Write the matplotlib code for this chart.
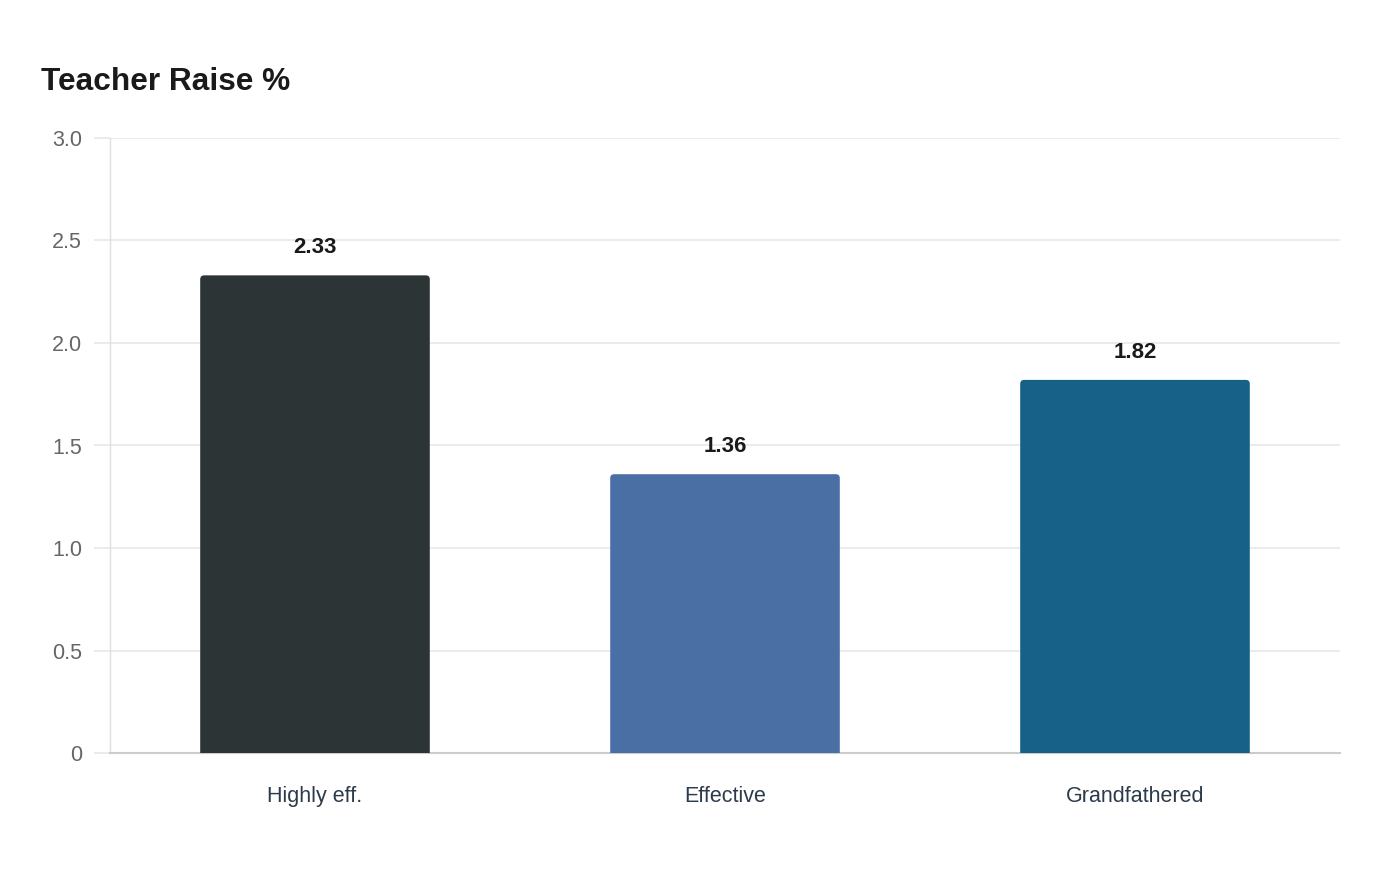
import matplotlib
matplotlib.use("Agg")
import matplotlib.pyplot as plt
from matplotlib.patches import FancyBboxPatch

categories = ["Highly eff.", "Effective", "Grandfathered"]
values = [2.33, 1.36, 1.82]
colors = ["#2d3436", "#4a6fa5", "#176087"]
yticks = [0, 0.5, 1.0, 1.5, 2.0, 2.5, 3.0]
yticklabels = ["0", "0.5", "1.0", "1.5", "2.0", "2.5", "3.0"]

plt.rcParams['font.family'] = ['Liberation Sans', 'DejaVu Sans']

fig = plt.figure(figsize=(14, 8.8), dpi=100)
ax = fig.add_axes([110/1400, 1 - 753/880, 1230/1400, 615/880])

bar_w = 0.56
x = list(range(len(categories)))
bars = ax.bar(x, values, width=bar_w, color=colors)
# Replace bars with rounded-top versions
px_x = 3.0 / 1230  # data units per px (x)
px_y = 3.0 / 615   # data units per px (y)
for b, c in zip(bars, colors):
    b.set_visible(False)
    bx, bw, bh = b.get_x(), b.get_width(), b.get_height()
    p = FancyBboxPatch((bx, -0.1), bw, bh + 0.1,
                       boxstyle="round,pad=0,rounding_size=%f" % (4 * px_x),
                       mutation_aspect=px_y / px_x,
                       facecolor=c, edgecolor="none", zorder=3)
    ax.add_patch(p)

for xi, v in zip(x, values):
    ax.text(xi, v + 22 * px_y, f"{v:.2f}", ha="center", va="baseline",
            fontsize=16, fontweight="bold", color="#1a1a1a")

ax.set_xlim(-0.5, 2.5)
ax.set_ylim(0, 3.0)
ax.set_yticks(yticks)
ax.set_yticklabels(yticklabels)
ax.set_xticks(x)
ax.set_xticklabels(categories)

ax.grid(axis="y", color="#e8e8e8", linewidth=1.2, zorder=0)
ax.set_axisbelow(True)
for s in ["top", "right"]:
    ax.spines[s].set_visible(False)
ax.spines["left"].set_color("#e0e0e0")
ax.spines["left"].set_linewidth(1)
ax.spines["left"].set_linestyle((0, (1, 1)))
ax.spines["bottom"].set_color("#cccccc")
ax.spines["bottom"].set_linewidth(1.5)

ax.tick_params(axis="y", length=11.5, color="#e8e8e8", width=1.2, pad=8.6,
               labelsize=15.5, labelcolor="#666666")
ax.tick_params(axis="x", length=0, pad=24, labelsize=15.5, labelcolor="#2d3a4a")

fig.text(41/1400, 1 - 82/880, "Teacher Raise %", fontsize=22.8, fontweight="bold",
         color="#1a1a1a", ha="left", va="center")

fig.savefig("out.png", dpi=100, facecolor="white")
